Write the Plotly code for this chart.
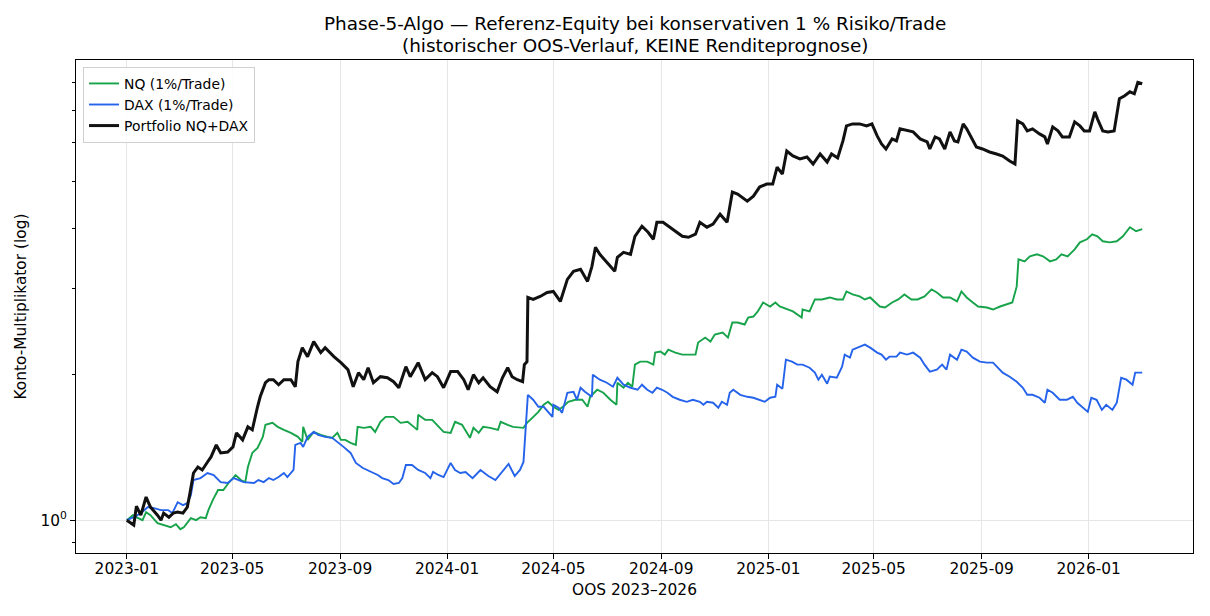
import math
import pandas as pd
import plotly.graph_objects as go

# ---------------- data ----------------
start_date = "2023-01-01"

# Portfolio NQ+DAX
pf_days = [0,8,11,16,22,27,35,39,42,48,
           53,58,64,69,72,76,81,86,92,96,
           102,107,115,121,125,132,138,143,149,152,
           158,162,167,173,179,187,192,195,200,206,
           213,221,226,236,244,252,258,264,270,275,
           281,289,297,304,310,318,323,332,340,348,
           354,361,369,377,384,389,395,401,406,414,
           422,428,434,439,445,451,453,456,457,463,
           471,479,486,494,502,509,517,525,530,534,
           539,547,556,559,566,574,579,587,594,600,
           604,611,619,627,633,640,648,653,661,668,
           676,684,690,696,707,714,721,729,736,741,
           747,752,759,767,775,782,790,798,803,810,
           816,820,827,835,843,849,855,860,865,872,
           877,881,889,896,904,912,915,921,926,932,
           938,943,947,953,957,963,968,975,983,991,
           998,1006,1012,1015,1021,1026,1032,1040,1046,1049,
           1055,1061,1066,1074,1080,1086,1091,1097,1103,1106,
           1112,1118,1125,1131,1137,1143,1148,1152,1157]
pf_values = [1.000,0.977,1.069,1.024,1.116,1.064,1.024,1.000,1.034,1.014,
             1.034,1.039,1.034,1.064,1.137,1.251,1.287,1.269,1.318,1.350,
             1.429,1.376,1.382,1.416,1.513,1.464,1.557,1.535,1.713,1.796,
             1.920,1.948,1.948,1.902,1.948,1.948,1.884,2.122,2.268,2.173,
             2.334,2.215,2.268,2.173,2.112,2.043,1.884,2.014,1.948,2.062,
             1.920,1.976,1.966,1.929,1.875,2.072,1.976,2.112,1.948,2.014,
             1.976,1.875,2.024,2.024,1.948,1.857,1.995,1.920,1.966,1.884,
             1.839,1.966,2.062,1.976,1.948,1.929,2.092,2.122,2.878,2.851,
             2.892,2.947,2.961,2.824,3.136,3.258,3.289,3.106,3.336,3.652,
             3.532,3.400,3.258,3.482,3.566,3.532,3.848,4.036,3.922,3.794,
             4.113,4.113,4.017,3.922,3.848,3.830,3.885,4.113,4.017,4.075,
             4.273,4.113,4.745,4.700,4.546,4.655,4.860,4.930,4.930,5.345,
             5.170,5.768,5.633,5.553,5.606,5.422,5.687,5.474,5.687,5.580,
             6.050,6.498,6.560,6.560,6.498,6.560,6.196,5.964,5.824,6.108,
             6.050,6.406,6.345,6.315,6.108,6.021,5.824,6.167,6.108,5.824,
             6.315,6.050,6.021,6.560,6.406,6.108,5.880,5.824,5.741,5.687,
             5.633,5.500,5.422,6.654,6.560,6.345,6.406,6.255,6.167,5.964,
             6.467,6.345,6.167,6.167,6.623,6.498,6.345,6.345,6.946,6.718,
             6.345,6.315,6.345,7.390,7.496,7.640,7.568,7.990,7.937]

# NQ (1%/Trade)
nq_days = [0,7,13,18,22,27,35,42,50,56,
           61,65,73,79,84,90,93,98,104,110,
           116,124,130,135,138,143,149,155,158,166,
           172,179,187,195,200,201,206,213,221,229,
           234,240,244,249,255,261,263,270,278,283,
           289,295,304,312,320,327,331,332,340,348,
           355,361,369,374,382,388,391,395,401,406,
           414,423,426,434,440,452,456,462,469,475,
           480,486,492,497,503,511,519,525,528,536,
           543,551,558,559,566,571,576,579,585,593,
           600,602,608,613,617,625,633,648,651,659,
           665,670,679,685,690,696,704,708,714,719,
           725,733,739,744,752,759,769,770,778,784,
           792,801,809,816,820,827,835,841,847,852,
           858,864,872,879,886,894,901,909,917,923,
           930,938,946,951,957,964,970,980,987,995,
           1003,1009,1014,1016,1023,1029,1037,1044,1052,1059,
           1065,1072,1080,1086,1094,1100,1106,1112,1120,1128,
           1135,1143,1150,1157]
nq_values = [1.000,1.024,1.010,1.000,1.039,1.024,0.986,0.977,0.967,0.981,
             0.958,0.967,1.010,1.000,1.014,1.010,1.049,1.100,1.154,1.154,
             1.193,1.239,1.210,1.198,1.287,1.376,1.409,1.485,1.572,1.587,
             1.557,1.535,1.513,1.485,1.450,1.557,1.464,1.520,1.499,1.485,
             1.478,1.513,1.464,1.464,1.443,1.429,1.557,1.550,1.557,1.520,
             1.595,1.633,1.633,1.587,1.595,1.557,1.535,1.649,1.610,1.610,
             1.557,1.520,1.513,1.595,1.572,1.513,1.478,1.550,1.513,1.557,
             1.550,1.535,1.595,1.572,1.557,1.550,1.587,1.625,1.672,1.729,
             1.754,1.713,1.688,1.713,1.754,1.771,1.771,1.713,1.796,1.857,
             1.831,1.771,1.729,1.920,1.875,1.920,1.884,2.092,2.122,2.122,
             2.092,2.215,2.226,2.194,2.247,2.215,2.194,2.194,2.323,2.379,
             2.334,2.413,2.436,2.379,2.555,2.555,2.531,2.617,2.629,2.693,
             2.810,2.757,2.810,2.757,2.718,2.693,2.617,2.718,2.693,2.851,
             2.851,2.878,2.851,2.851,2.961,2.920,2.892,2.851,2.878,2.824,
             2.757,2.744,2.810,2.851,2.920,2.851,2.851,2.892,2.990,2.947,
             2.878,2.878,2.824,2.961,2.878,2.810,2.757,2.744,2.718,2.757,
             2.784,2.810,3.033,3.449,3.416,3.499,3.532,3.499,3.416,3.449,
             3.532,3.499,3.617,3.739,3.794,3.885,3.848,3.757,3.739,3.757,
             3.848,4.017,3.941,3.979]

# DAX (1%/Trade)
dax_days = [0,8,16,24,31,39,47,52,58,64,
            69,73,76,84,92,99,107,115,122,127,
            133,145,150,156,162,167,173,179,183,190,
            192,198,201,206,213,218,226,234,240,247,
            255,261,269,274,280,286,291,298,304,310,
            314,318,325,332,340,346,349,355,361,369,
            374,380,386,394,403,412,420,428,435,442,
            448,452,454,457,463,469,475,480,485,486,
            492,496,502,509,513,517,522,530,531,539,
            547,554,559,566,574,582,587,593,599,604,
            610,616,622,630,638,645,653,657,661,668,
            674,678,684,687,691,699,707,714,721,727,
            733,739,741,747,751,758,764,770,778,784,
            788,792,798,801,809,815,818,824,827,833,
            841,847,855,860,865,869,877,881,889,896,
            904,909,915,923,929,934,938,946,951,957,
            964,972,980,987,992,998,1006,1014,1021,1026,
            1032,1040,1046,1049,1055,1063,1071,1078,1083,1089,
            1095,1099,1105,1111,1116,1123,1128,1133,1139,1146,
            1149,1157]
dax_values = [1.000,1.014,1.034,1.064,1.059,1.049,1.049,1.034,1.089,1.074,
              1.084,1.126,1.210,1.221,1.251,1.239,1.198,1.193,1.221,1.210,
              1.198,1.193,1.210,1.198,1.221,1.210,1.227,1.251,1.227,1.269,
              1.429,1.443,1.416,1.485,1.520,1.499,1.485,1.478,1.450,1.416,
              1.376,1.312,1.281,1.269,1.251,1.239,1.221,1.210,1.187,1.193,
              1.221,1.299,1.299,1.269,1.251,1.221,1.257,1.239,1.227,1.312,
              1.269,1.251,1.257,1.221,1.269,1.233,1.210,1.257,1.306,1.233,
              1.269,1.318,1.535,1.813,1.771,1.713,1.713,1.672,1.633,1.729,
              1.705,1.664,1.831,1.839,1.771,1.875,1.839,1.796,1.995,1.948,
              1.920,1.884,1.966,1.902,1.875,1.857,1.902,1.857,1.831,1.875,
              1.857,1.831,1.796,1.771,1.754,1.771,1.754,1.729,1.754,1.746,
              1.705,1.754,1.729,1.831,1.857,1.813,1.796,1.788,1.771,1.754,
              1.788,1.796,1.902,1.866,2.142,2.122,2.092,2.092,2.062,2.014,
              1.948,1.995,1.911,1.976,1.966,2.072,2.194,2.163,2.247,2.268,
              2.301,2.268,2.215,2.194,2.142,2.173,2.173,2.215,2.194,2.215,
              2.163,2.092,2.024,2.043,2.092,2.043,2.194,2.142,2.247,2.226,
              2.163,2.122,2.112,2.112,2.062,2.014,1.976,1.929,1.875,1.813,
              1.813,1.788,1.746,1.857,1.831,1.771,1.771,1.796,1.746,1.705,
              1.672,1.788,1.771,1.688,1.729,1.688,1.746,1.966,1.948,1.902,
              2.014,2.014]

series_names = ["NQ (1%/Trade)", "DAX (1%/Trade)", "Portfolio NQ+DAX"]
title_line1 = "Phase-5-Algo — Referenz-Equity bei konservativen 1 % Risiko/Trade"
title_line2 = "(historischer OOS-Verlauf, KEINE Renditeprognose)"
y_minor_ticks = [0.9, 2, 3, 4, 5, 6, 7, 8]

# ---------------- figure ----------------
t0 = pd.Timestamp(start_date)
def to_dates(days):
    return [t0 + pd.Timedelta(days=d) for d in days]

FONT = "DejaVu Sans"
TICK = 15.4
fig = go.Figure()
fig.add_trace(go.Scatter(x=to_dates(nq_days), y=nq_values, mode="lines",
                         name=series_names[0], line=dict(color="#16a34a", width=1.9)))
fig.add_trace(go.Scatter(x=to_dates(dax_days), y=dax_values, mode="lines",
                         name=series_names[1], line=dict(color="#2563eb", width=1.9)))
fig.add_trace(go.Scatter(x=to_dates(pf_days), y=pf_values, mode="lines",
                         name=series_names[2], line=dict(color="#111111", width=3)))

# matplotlib-like 5 % margins
all_days = nq_days + dax_days + pf_days
dmin, dmax = min(all_days), max(all_days)
pad = 0.05 * (dmax - dmin)
x_range = [t0 + pd.Timedelta(days=dmin - pad), t0 + pd.Timedelta(days=dmax + pad)]
all_vals = nq_values + dax_values + pf_values
lmin, lmax = math.log10(min(all_vals)), math.log10(max(all_vals))
lpad = 0.05 * (lmax - lmin)
y_range = [lmin - lpad - 0.003, lmax + lpad]

plot_top, plot_h = 60, 616 - 60 - 63

fig.update_layout(
    width=1210, height=616,
    margin=dict(l=76, r=17, t=60, b=63),
    paper_bgcolor="white", plot_bgcolor="white",
    font=dict(family=FONT, size=TICK, color="black"),
    showlegend=True,
    legend=dict(
        x=0.0063, y=0.986, xanchor="left", yanchor="top",
        bgcolor="rgba(255,255,255,0.85)", bordercolor="#d0d0d0", borderwidth=1,
        font=dict(family=FONT, size=13.9, color="black"),
        itemwidth=30, tracegroupgap=0,
    ),
    annotations=[
        dict(text=title_line1, xref="paper", yref="paper", x=0.5,
             y=1 + (plot_top - 24) / plot_h, xanchor="center", yanchor="middle",
             showarrow=False, font=dict(family=FONT, size=18.4, color="black")),
        dict(text=title_line2, xref="paper", yref="paper", x=0.5,
             y=1 + (plot_top - 45) / plot_h, xanchor="center", yanchor="middle",
             showarrow=False, font=dict(family=FONT, size=18.4, color="black")),
    ],
)

fig.update_xaxes(
    type="date", range=x_range,
    tickmode="linear", tick0="2023-01-01", dtick="M4", tickformat="%Y-%m",
    ticks="outside", ticklen=5, tickwidth=1, tickcolor="black",
    ticklabelstandoff=-3,
    showgrid=True, gridcolor="#e6e6e6", gridwidth=1,
    showline=True, linecolor="black", linewidth=1, mirror=True,
    zeroline=False,
    title=dict(text="OOS 2023–2026", standoff=6, font=dict(family=FONT, size=TICK)),
    tickfont=dict(family=FONT, size=TICK, color="black"),
)
fig.update_yaxes(
    type="log", range=y_range,
    tickmode="array", tickvals=[1], ticktext=["10<sup>0</sup>"],
    ticks="outside", ticklen=5, tickwidth=1, tickcolor="black",
    minor=dict(tickmode="array", tickvals=y_minor_ticks, ticks="outside",
               ticklen=3, tickwidth=1, tickcolor="black", showgrid=False),
    showgrid=True, gridcolor="#e6e6e6", gridwidth=1,
    showline=True, linecolor="black", linewidth=1, mirror=True,
    zeroline=False,
    title=dict(text="Konto-Multiplikator (log)", standoff=10, font=dict(family=FONT, size=TICK)),
    tickfont=dict(family=FONT, size=TICK, color="black"),
)

fig.write_html("out.html")
